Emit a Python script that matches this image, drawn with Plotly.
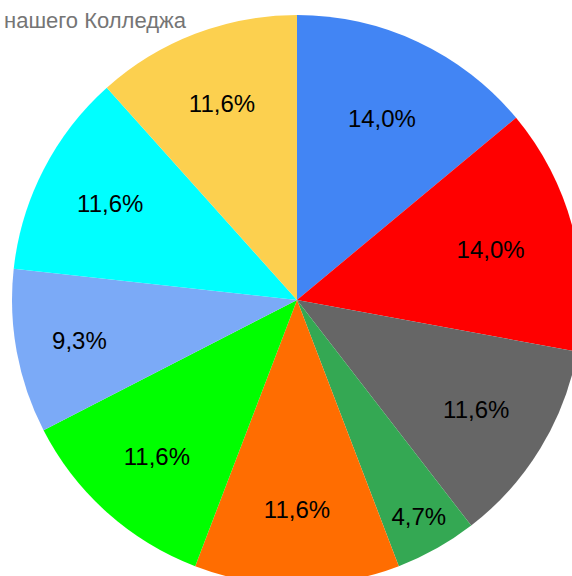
import plotly.graph_objects as go

categories = ["A", "B", "C", "D", "E", "F", "G", "H", "I"]
counts = [6, 6, 5, 2, 5, 5, 4, 5, 5]
pct_labels = ["14,0%", "14,0%", "11,6%", "4,7%", "11,6%", "11,6%", "9,3%", "11,6%", "11,6%"]
colors = ["#4285F4", "#FF0000", "#666666", "#34A853", "#FF6D01",
          "#00FF00", "#7BAAF7", "#00FFFF", "#FCD04F"]
title_text = "нашего Колледжа"

W, H = 600, 600
fig = go.Figure(go.Pie(
    labels=categories,
    values=counts,
    text=pct_labels,
    textinfo="text",
    textposition="inside",
    insidetextorientation="horizontal",
    sort=False,
    direction="clockwise",
    rotation=0,
    marker=dict(colors=colors, line=dict(width=0)),
    textfont=dict(family="Liberation Sans, Arial", size=24, color="#000000"),
    domain=dict(x=[12 / W, 582 / W], y=[(H - 585) / H, (H - 15) / H]),
    showlegend=False,
    hoverinfo="skip",
))

fig.add_annotation(
    text=title_text, xref="paper", yref="paper",
    x=189 / W, y=1 - 6 / H, xanchor="right", yanchor="top",
    showarrow=False,
    font=dict(family="Liberation Sans, Arial", size=22, color="#757575"),
)

fig.update_layout(
    width=W, height=H, autosize=False,
    margin=dict(l=0, r=0, t=0, b=0),
    paper_bgcolor="white", plot_bgcolor="white",
)

fig.write_html(
    "out.html",
    config={"displayModeBar": False},
    post_script="document.body.style.margin='0';document.body.style.overflow='hidden';"
                "document.documentElement.style.overflow='hidden';",
)
